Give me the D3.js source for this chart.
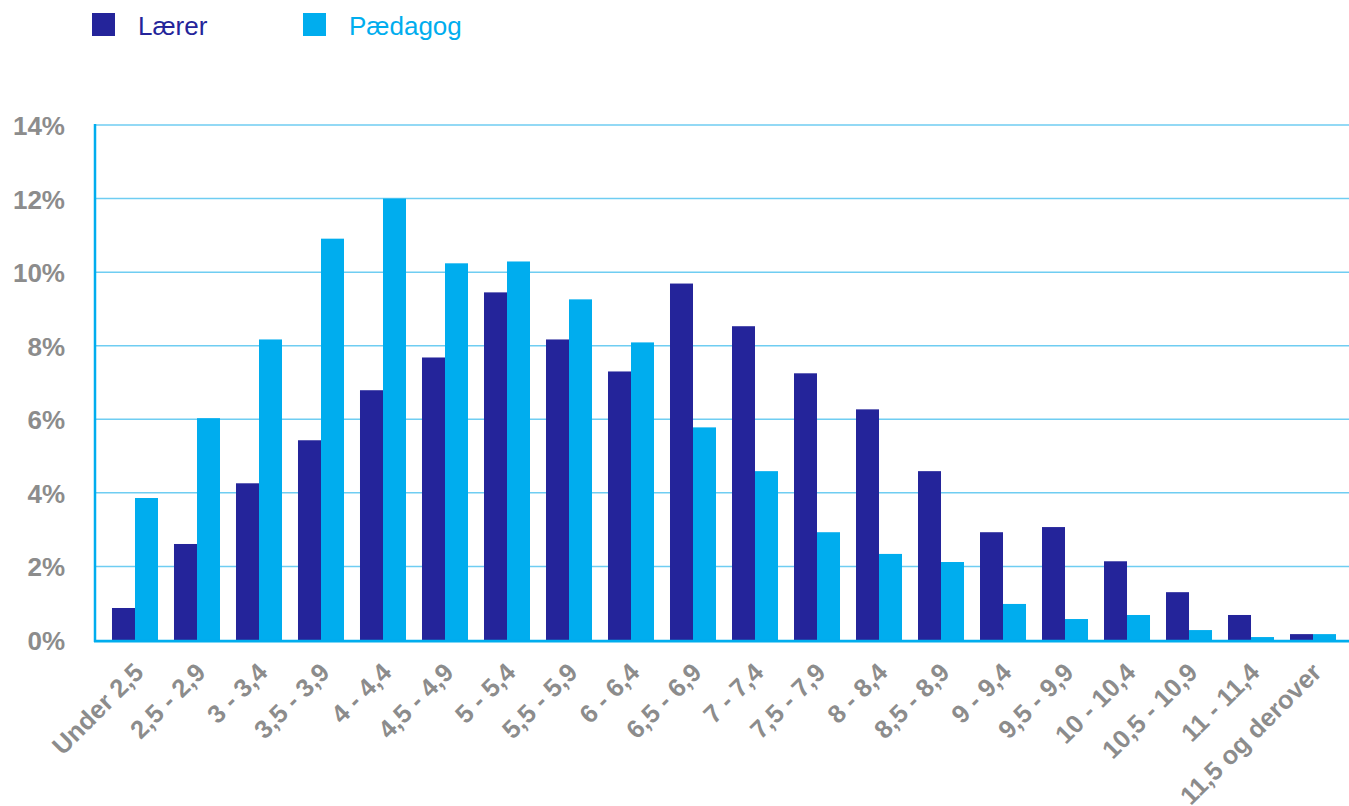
<!DOCTYPE html>
<html>
<head>
<meta charset="utf-8">
<script src="https://cdn.jsdelivr.net/npm/d3@7/dist/d3.min.js"></script>
<style>
html,body{margin:0;padding:0;background:#fff;}
svg{display:block;font-family:"Liberation Sans",Arial,Helvetica,sans-serif;}
</style>
</head>
<body>
<svg id="chart" width="1349" height="806"></svg>
<script>
const categories = ["Under 2,5","2,5 - 2,9","3 - 3,4","3,5 - 3,9","4 - 4,4","4,5 - 4,9","5 - 5,4","5,5 - 5,9","6 - 6,4","6,5 - 6,9","7 - 7,4","7,5 - 7,9","8 - 8,4","8,5 - 8,9","9 - 9,4","9,5 - 9,9","10 - 10,4","10,5 - 10,9","11 - 11,4","11,5 og derover"];
const laerer   = [0.87,2.61,4.26,5.43,6.79,7.68,9.45,8.17,7.30,9.69,8.53,7.25,6.27,4.59,2.93,3.07,2.14,1.30,0.68,0.16];
const paedagog = [3.86,6.03,8.17,10.91,12.0,10.24,10.29,9.26,8.09,5.78,4.59,2.93,2.34,2.12,0.98,0.57,0.68,0.27,0.08,0.16];
const seriesNames = ["Lærer","Pædagog"];
const colors = ["#24249a","#00adee"];
const yTicks = [0,2,4,6,8,10,12,14];

const svg = d3.select("#chart");
const mLeft = 95, mRight = 1353, mTop = 125, mBottom = 640;

const x = d3.scaleBand().domain(categories).range([mLeft, mRight]).paddingInner(0.258).paddingOuter(0.274);
const xs = d3.scaleBand().domain(seriesNames).range([0, x.bandwidth()]);
const y = d3.scaleLinear().domain([0,14]).range([mBottom, mTop]);

// gridlines
svg.append("g").selectAll("line").data(yTicks.filter(d=>d>0)).join("line")
  .attr("x1", mLeft).attr("x2", 1349)
  .attr("y1", d=>y(d)).attr("y2", d=>y(d))
  .attr("stroke", "#6fcdf2").attr("stroke-width", 1.5);

// y labels
svg.append("g").selectAll("text").data(yTicks).join("text")
  .attr("x", 65).attr("y", d=>y(d)+10)
  .attr("text-anchor","end")
  .attr("font-size", 26).attr("font-weight","bold").attr("fill","#8c8c8c")
  .text(d=>d+"%");

// bars
const data = [laerer, paedagog];
const g = svg.append("g");
categories.forEach((c,i)=>{
  seriesNames.forEach((s,j)=>{
    const v = data[j][i];
    g.append("rect")
      .attr("x", x(c)+xs(s)).attr("width", xs.bandwidth())
      .attr("y", y(v)).attr("height", y(0)-y(v))
      .attr("fill", colors[j]);
  });
});

// axes lines
svg.append("line").attr("x1", mLeft).attr("x2", mLeft).attr("y1", mTop-1).attr("y2", mBottom+2)
  .attr("stroke","#00adee").attr("stroke-width",2.5);
svg.append("line").attr("x1", mLeft-1).attr("x2", 1349).attr("y1", mBottom+1).attr("y2", mBottom+1)
  .attr("stroke","#00adee").attr("stroke-width",2.5);
svg.append("line").attr("x1", mLeft-1).attr("x2", 1349).attr("y1", mBottom+2.5).attr("y2", mBottom+2.5)
  .attr("stroke","#7fd6f5").attr("stroke-width",1);

// x labels
svg.append("g").selectAll("text").data(categories).join("text")
  .attr("transform", d=>`translate(${x(d)+x.bandwidth()/2+10},${674}) rotate(-45)`)
  .attr("text-anchor","end")
  .attr("font-size", 25.5).attr("font-weight","bold").attr("fill","#8c8c8c")
  .text(d=>d);

// legend
const leg = svg.append("g");
const legX = [92, 303];
seriesNames.forEach((s,j)=>{
  leg.append("rect").attr("x", legX[j]).attr("y", 13).attr("width", 23).attr("height", 23).attr("fill", colors[j]);
  leg.append("text").attr("x", legX[j]+46).attr("y", 35)
    .attr("font-size", 26).attr("fill", colors[j]).text(s);
});
</script>
</body>
</html>
